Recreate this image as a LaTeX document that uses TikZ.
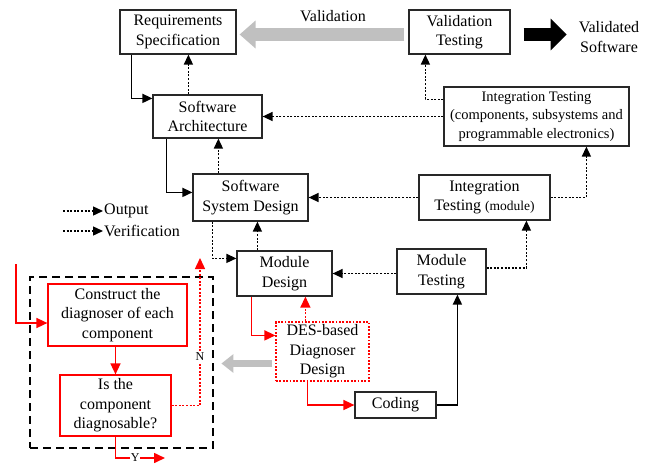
\documentclass[tikz,border=0pt]{standalone}
\usepackage{fontspec}
\setmainfont{Liberation Serif}
\usetikzlibrary{arrows.meta,calc}
\newcommand{\mainsz}{\fontsize{16}{19.5}\selectfont}
\newcommand{\itsz}{\fontsize{14.5}{18.5}\selectfont}
\newcommand{\notesz}{\fontsize{13.5}{15}\selectfont}
\newcommand{\tagsz}{\fontsize{12}{14}\selectfont}
\definecolor{arrowgray}{RGB}{192,192,192}
\definecolor{flowred}{RGB}{255,0,0}
\definecolor{edge}{RGB}{40,40,40}
\begin{document}
\begin{tikzpicture}[x=1pt,y=-1pt,
  box/.style={draw=edge, line width=1.2pt, align=center, inner sep=0pt, font=\mainsz},
  redbox/.style={box, draw=flowred},
  desbox/.style={box, draw=flowred, dash pattern=on 1.8pt off 1.6pt},
  blacktip/.style={-{Triangle[length=10pt,width=9pt]}},
  redtip/.style={-{Triangle[length=11pt,width=10pt]}},
  solidflow/.style={black, line width=1.6pt, blacktip},
  dotflow/.style={black, line width=1.4pt, dash pattern=on 2pt off 1.6pt, blacktip},
  redflow/.style={flowred, line width=1.6pt, redtip},
  reddot/.style={flowred, line width=1.4pt, dash pattern=on 2pt off 1.6pt, redtip},
  txt/.style={font=\mainsz, inner sep=0pt, align=center},
  bigarrow/.style={line width=13pt}
]
\useasboundingbox (0,0) rectangle (650,466);

% dashed frame around the diagnosability loop
\node[draw=black, line width=1.4pt, dash pattern=on 8pt off 5pt,
      minimum width=183pt, minimum height=171pt, inner sep=0pt] (group) at (121.5,362.5) {};

% process boxes
\node[box, minimum width=116pt, minimum height=44pt] (req) at (178,32) {Requirements\\Specification};
\node[box, minimum width=101pt, minimum height=44pt] (val) at (459.5,32) {Validation\\Testing};
\node[box, minimum width=109pt, minimum height=43pt] (arch) at (207.5,116.5) {Software\\Architecture};
\node[box, font=\itsz, minimum width=185pt, minimum height=59pt] (itbig) at (536.5,116.5)
  {Integration Testing\\(components, subsystems and\\programmable electronics)};
\node[box, minimum width=115pt, minimum height=47pt] (ssd) at (250.5,197.5) {Software\\System Design};
\node[box, minimum width=131pt, minimum height=45pt] (itmod) at (484.5,197.5)
  {Integration\\Testing {\notesz(module)}};
\node[box, minimum width=95pt, minimum height=45pt] (md) at (284.5,273.5) {Module\\Design};
\node[box, minimum width=89pt, minimum height=45pt] (mt) at (441.5,271.5) {Module\\Testing};
\node[desbox, minimum width=93pt, minimum height=59pt] (des) at (322.5,351.5) {DES-based\\Diagnoser\\Design};
\node[box, minimum width=81pt, minimum height=26pt] (cod) at (395.5,405) {Coding};
\node[redbox, minimum width=139pt, minimum height=62pt] (con) at (117.5,315)
  {Construct the\\diagnoser of each\\component};
\node[redbox, minimum width=111pt, minimum height=61pt] (isd) at (115.5,405.5)
  {Is the\\component\\diagnosable?};

% free texts
\node[txt] (vlab) at (333,16) {Validation};
\node[txt] (vsw) at (609,37) {Validated\\Software};

% wide arrows
\draw[bigarrow, arrowgray, -{Triangle[length=16pt,width=27pt]}]
  ($(val.west)+(-4,2.5)$) -- ($(req.east)+(3,2.5)$);
\draw[bigarrow, black, -{Triangle[length=16pt,width=31pt]}]
  ($(val.east)+(13,2.5)$) coordinate (bk0) -- ($(bk0)+(43,0)$);
\draw[line width=7pt, arrowgray, -{Triangle[length=12pt,width=18pt]}]
  ($(des.west)+(-3,12)$) coordinate (gr0) -- ($(gr0)+(-51,0)$);

% black output flow
\draw[solidflow] ($(req.south west)+(12,0)$) |- ($(arch.north west)+(0,4)$);
\draw[solidflow] ($(arch.south west)+(14,0)$) |- ($(ssd.north west)+(0,19)$);
\draw[solidflow] (cod.east) -| ($(mt.south west)+(61,0)$);

% dotted verification flow
\coordinate (a1) at ($(arch.north west)+(36,0)$);
\draw[dotflow] (a1) -- (a1 |- req.south);
\coordinate (s1) at ($(ssd.north west)+(26,0)$);
\draw[dotflow] (s1) -- (s1 |- arch.south);
\draw[dotflow] (itbig.west) -- (arch.east);
\draw[dotflow] ($(itbig.north west)+(0,13)$) -| ($(val.south west)+(17,0)$);
\draw[dotflow] (itmod.east) -| ($(itbig.south west)+(143,0)$);
\draw[dotflow] (itmod.west) -- (ssd.east);
\draw[dotflow] ($(ssd.south west)+(20,0)$) |- ($(md.north west)+(0,8)$);
\coordinate (m1) at ($(md.north west)+(21,0)$);
\draw[dotflow] (m1) -- (m1 |- ssd.south);
\draw[dotflow] (mt.west |- md.east) -- (md.east);
\draw[dotflow] ($(mt.east)+(0,-3.5)$) -| ($(itmod.south west)+(108,0)$);

% red diagnoser flow
\draw[redflow] ($(md.south west)+(15,0)$) |- ($(des.north west)+(0,14)$);
\coordinate (d1) at ($(des.north west)+(30,0)$);
\draw[reddot] (d1) -- (d1 |- md.south);
\draw[redflow] ($(des.south west)+(32,0)$) |- (cod.west);

\coordinate (rin) at (16,264);
\draw[redflow] (rin) |- ($(con.west)+(0,8)$);
\draw[redflow] (con.south -| isd.north) -- (isd.north);
\coordinate (ntop) at (200,258);
\draw[reddot] (isd.east) -| (ntop)
  node[pos=0.665, fill=white, inner sep=1pt, text=black, font=\tagsz] (nlab) {N};
\coordinate (yend) at (165,458);
\draw[redflow] (isd.south) |- (yend)
  node[pos=0.70, fill=white, inner sep=0.8pt, text=black, font=\tagsz] (ylab) {Y};

% legend
\coordinate (lo0) at (63,211);
\coordinate (lo1) at (103,211);
\coordinate (lv0) at (63,231);
\coordinate (lv1) at (103,231);
\draw[dotflow] (lo0) -- (lo1);
\draw[dotflow] (lv0) -- (lv1);
\node[txt, anchor=west] (lout) at (104,211) {Output};
\node[txt, anchor=west] (lver) at (104,231) {Verification};
\end{tikzpicture}
\end{document}
